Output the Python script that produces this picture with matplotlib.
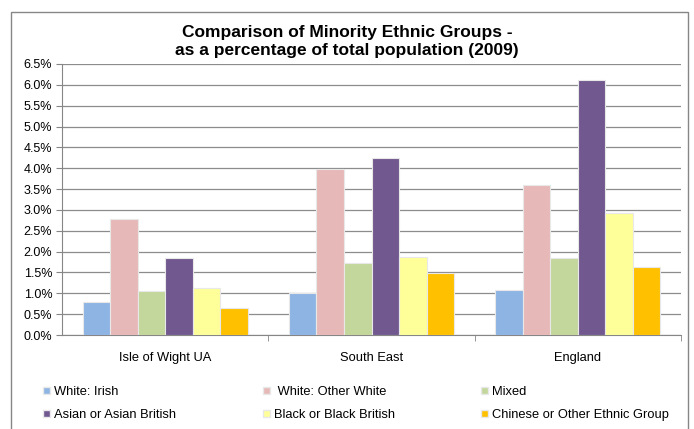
import numpy as np
import matplotlib
matplotlib.use("Agg")
import matplotlib.pyplot as plt
from matplotlib.patches import Rectangle, Patch
from matplotlib.ticker import MultipleLocator, PercentFormatter

plt.rcParams['font.family'] = ['Liberation Sans', 'DejaVu Sans']

areas = ["Isle of Wight UA", "South East", "England"]
groups = ["White: Irish", " White: Other White", "Mixed",
          "Asian or Asian British", "Black or Black British",
          "Chinese or Other Ethnic Group"]
# percentage of total population, per group, per area
irish = [0.79, 1.00, 1.08]
other_white = [2.78, 3.98, 3.59]
mixed = [1.06, 1.72, 1.84]
asian = [1.85, 4.24, 6.12]
black = [1.13, 1.88, 2.93]
chinese = [0.65, 1.48, 1.64]
series = [irish, other_white, mixed, asian, black, chinese]
colours = ["#8EB4E3", "#E6B9B8", "#C3D69B", "#71588F", "#FFFF99", "#FFC000"]

fig = plt.figure(figsize=(6.94, 4.29), dpi=100)
fig.patches.append(Rectangle((11/694, -0.1), 677/694, 1.1 - 12/429,
                             transform=fig.transFigure, fill=False,
                             edgecolor="#868686", lw=1))

ax = fig.add_axes([62/694, 1 - 335/429, 619/694, 271/429])
x = np.arange(len(areas))
w = 0.8 / 6
for i, vals in enumerate(series):
    ax.bar(x - 0.4 + w*(i + 0.5), vals, w, color=colours[i],
           edgecolor="#E8E8E8", lw=0.8, label=groups[i], zorder=3)

ax.set_xlim(-0.5, 2.5)
ax.set_ylim(0, 6.5)
ax.yaxis.set_major_locator(MultipleLocator(0.5))
ax.yaxis.set_major_formatter(PercentFormatter(decimals=1))
ax.grid(axis='y', color="#8C8C8C", lw=0.9, zorder=0)
ax.set_xticks(x)
ax.set_xticklabels(areas, fontsize=9.3)
ax.set_xticks([0.5, 1.5, 2.5], minor=True)
ax.tick_params(axis='x', which='major', length=0, pad=12)
ax.tick_params(axis='x', which='minor', length=4, color="#868686")
ax.tick_params(axis='y', length=4, color="#868686", labelsize=9, pad=3)
for s in ['top', 'right']:
    ax.spines[s].set_visible(False)
for s in ['left', 'bottom']:
    ax.spines[s].set_color("#868686")

fig.text(0.5, 1 - 33/429, "Comparison of Minority Ethnic Groups -",
         ha='center', va='center', fontsize=12.5, fontweight='bold')
fig.text(0.5, 1 - 50/429, "as a percentage of total population (2009)",
         ha='center', va='center', fontsize=12.5, fontweight='bold')

# legend, three columns laid out row by row
col_x = [43/694, 263/694, 481/694]
for c in range(3):
    hs = [Patch(facecolor=colours[c], edgecolor="#E8E8E8"),
          Patch(facecolor=colours[c + 3], edgecolor="#E8E8E8")]
    fig.legend(hs, [groups[c], groups[c + 3]], loc='upper left',
               bbox_to_anchor=(col_x[c], 1 - 386/429), frameon=False,
               fontsize=9.3, handlelength=0.55, handleheight=0.55,
               handletextpad=0.3, labelspacing=0.85, borderpad=0,
               borderaxespad=0)

fig.savefig("out.png", dpi=100)
